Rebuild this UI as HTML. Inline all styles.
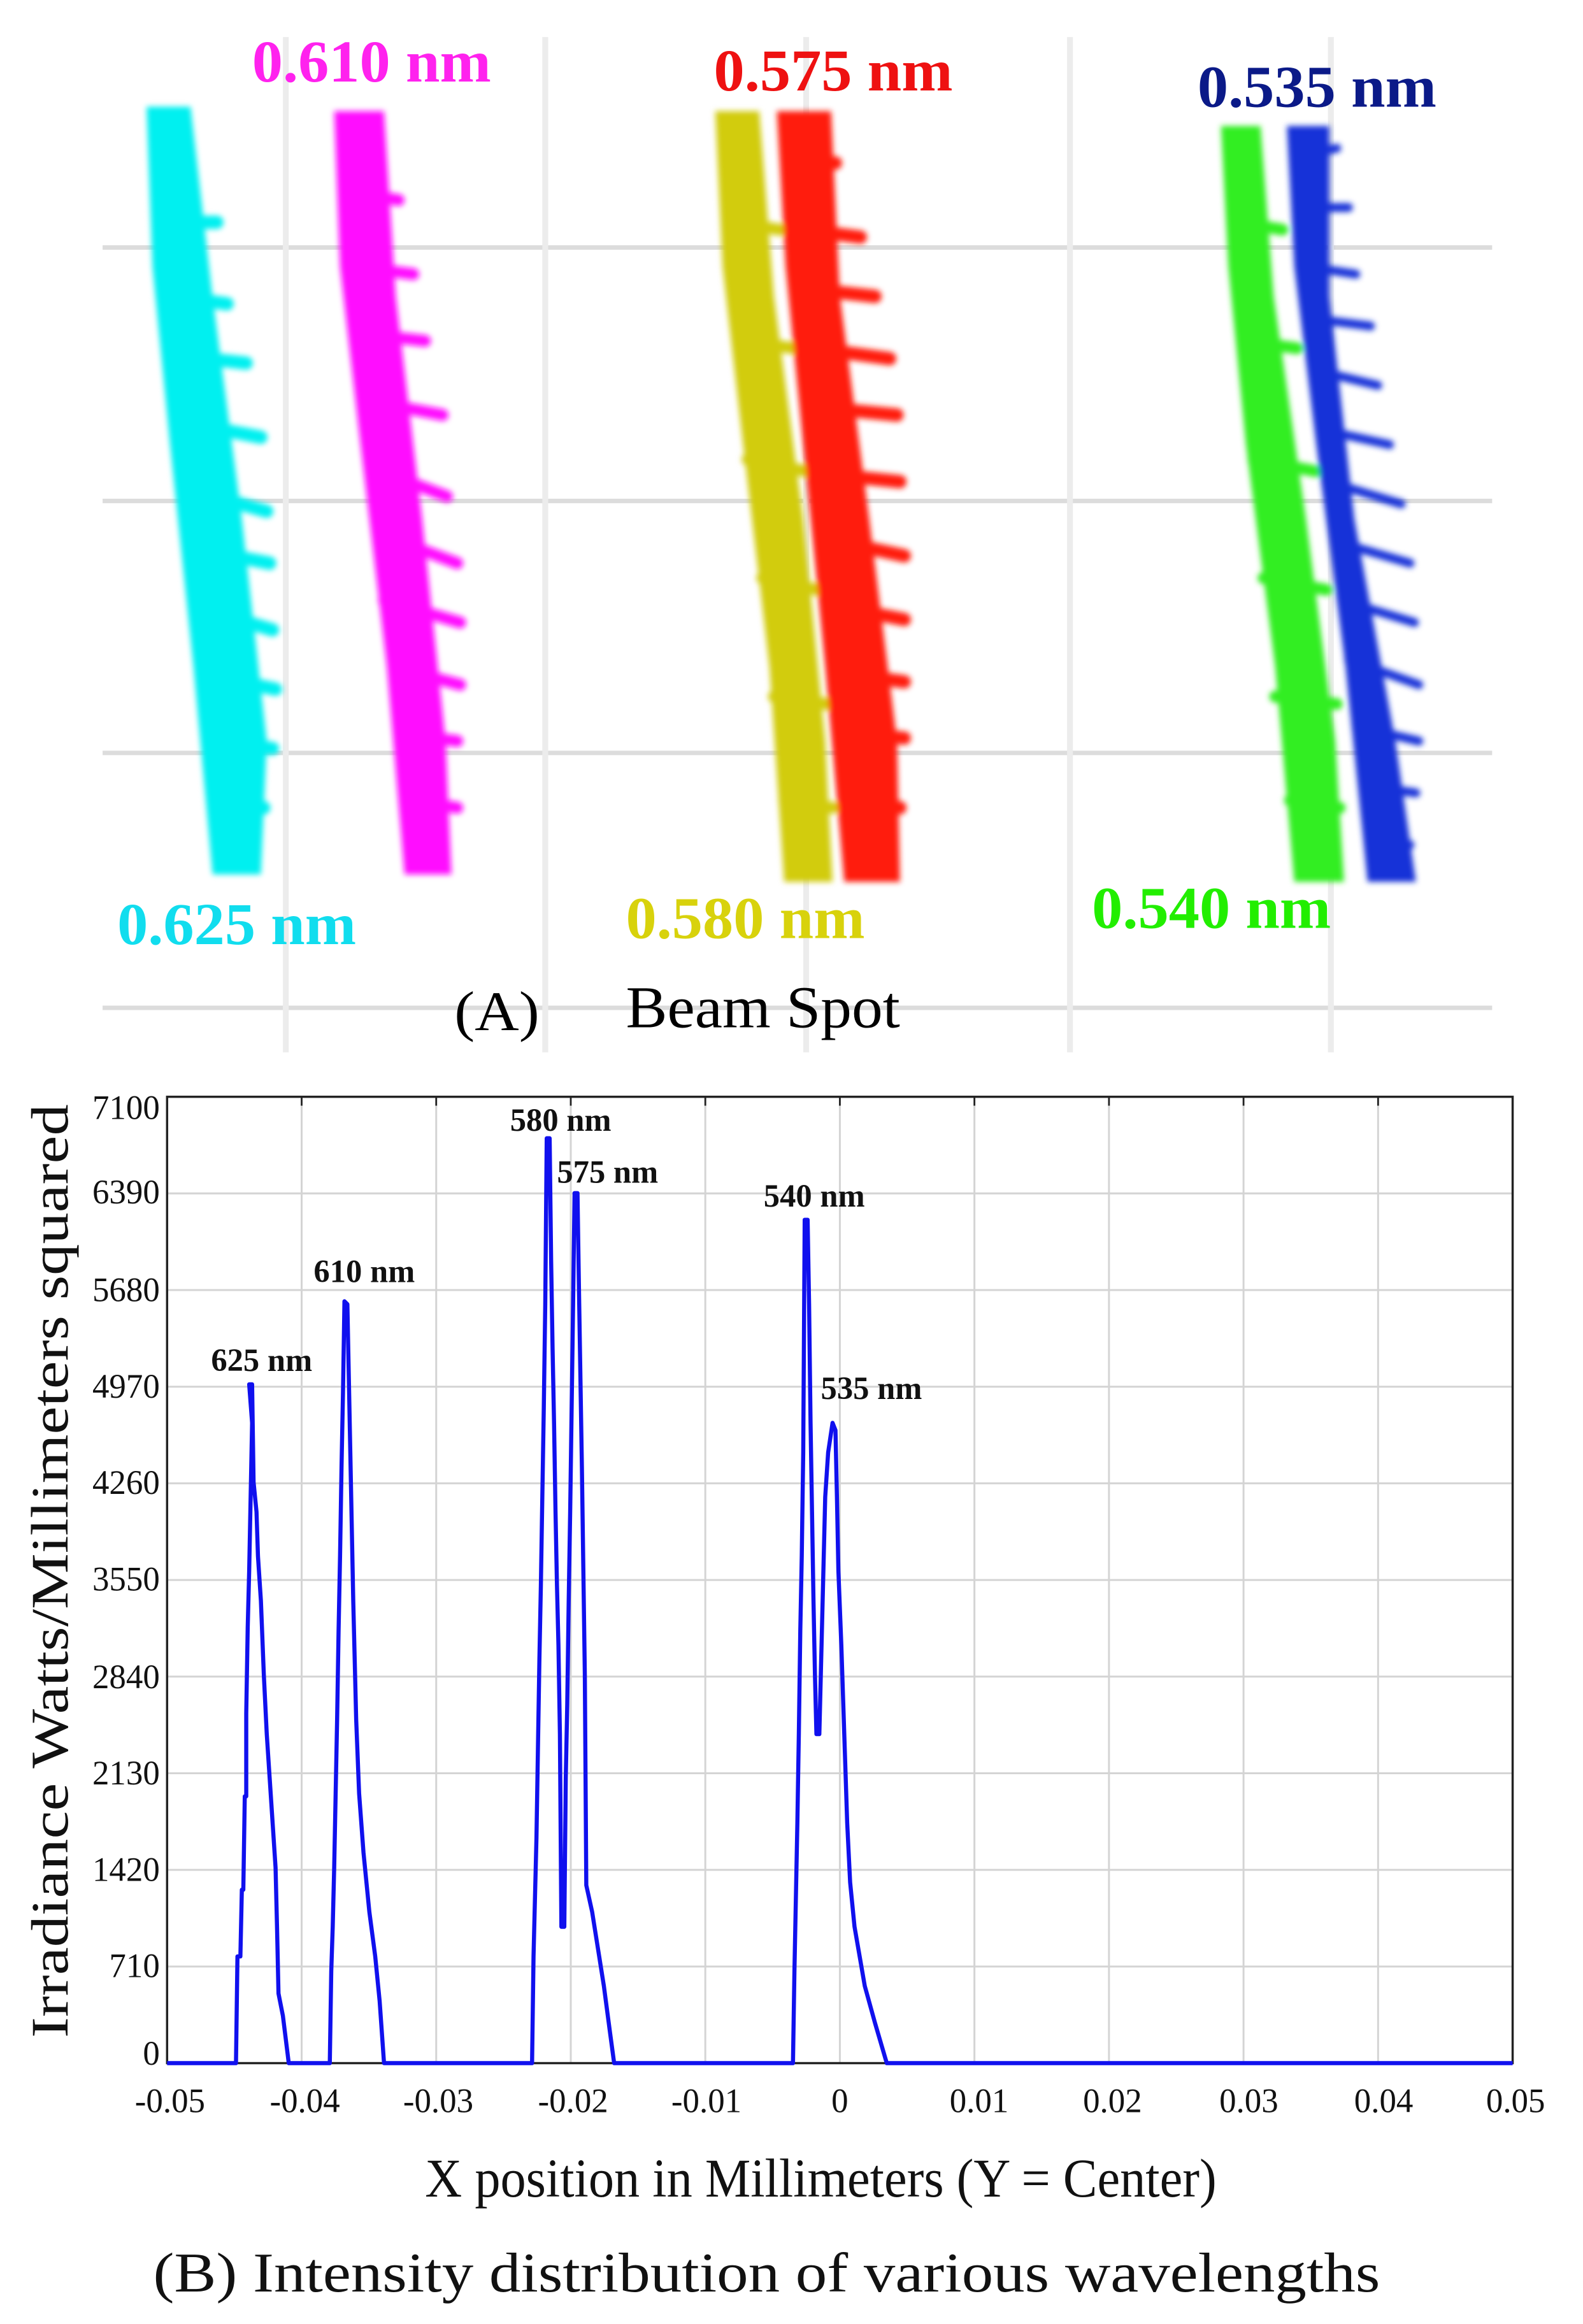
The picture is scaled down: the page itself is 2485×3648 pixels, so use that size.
<!DOCTYPE html>
<html><head><meta charset="utf-8"><style>
html,body{margin:0;padding:0;background:#fff;}
svg{display:block;}
text{font-family:"Liberation Serif",serif;}
</style></head><body>
<svg width="2485" height="3648" viewBox="0 0 1080 1568" preserveAspectRatio="none" xmlns="http://www.w3.org/2000/svg">
<defs><filter id="b" x="-20%" y="-20%" width="140%" height="140%"><feGaussianBlur stdDeviation="2"/></filter></defs>
<rect width="1080" height="1568" fill="#fff"/>
<g stroke="#dcdcdc" stroke-width="3">
<line x1="70" y1="167" x2="1018" y2="167"/><line x1="70" y1="338" x2="1018" y2="338"/>
<line x1="70" y1="508" x2="1018" y2="508"/><line x1="70" y1="680" x2="1018" y2="680"/>
</g>
<g stroke="#ececec" stroke-width="4">
<line x1="195" y1="25" x2="195" y2="710"/><line x1="372" y1="25" x2="372" y2="710"/>
<line x1="550" y1="25" x2="550" y2="710"/><line x1="730" y1="25" x2="730" y2="710"/>
<line x1="908" y1="25" x2="908" y2="710"/>
</g>
<g filter="url(#b)">
<polygon fill="#00f0f0" points="100,72 130,72 145,200 165,350 182,500 178,590 145,590 132,450 116,300 104,180"/>
<g stroke="#00f0f0" stroke-width="9" stroke-linecap="round">
<line x1="115" y1="150" x2="148" y2="150"/><line x1="118" y1="200" x2="155" y2="205"/>
<line x1="122" y1="240" x2="168" y2="245"/><line x1="125" y1="285" x2="178" y2="295"/>
<line x1="128" y1="330" x2="182" y2="345"/><line x1="132" y1="370" x2="184" y2="380"/>
<line x1="135" y1="410" x2="186" y2="425"/><line x1="140" y1="455" x2="188" y2="465"/>
<line x1="143" y1="500" x2="186" y2="505"/><line x1="146" y1="540" x2="180" y2="545"/>
</g>
<polygon fill="#ff10ff" points="228,75 262,75 270,200 288,350 304,500 308,590 276,590 264,450 246,300 232,180"/>
<g stroke="#ff10ff" stroke-width="8" stroke-linecap="round">
<line x1="240" y1="130" x2="272" y2="135"/><line x1="242" y1="180" x2="282" y2="185"/>
<line x1="245" y1="225" x2="290" y2="230"/><line x1="248" y1="270" x2="302" y2="280"/>
<line x1="252" y1="315" x2="305" y2="335"/><line x1="258" y1="360" x2="312" y2="380"/>
<line x1="262" y1="405" x2="314" y2="420"/><line x1="268" y1="450" x2="314" y2="462"/>
<line x1="272" y1="495" x2="312" y2="500"/><line x1="278" y1="540" x2="312" y2="545"/>
</g>
<polygon fill="#d2cc10" points="488,75 518,75 528,200 548,350 563,500 568,595 535,595 525,450 507,300 493,180"/>
<g stroke="#d2cc10" stroke-width="8" stroke-linecap="round">
<line x1="500" y1="150" x2="532" y2="155"/><line x1="505" y1="230" x2="542" y2="235"/>
<line x1="510" y1="310" x2="550" y2="318"/><line x1="520" y1="390" x2="558" y2="398"/>
<line x1="528" y1="470" x2="564" y2="475"/><line x1="535" y1="540" x2="568" y2="545"/>
</g>
<polygon fill="#ff1a10" points="530,75 567,75 573,200 593,350 612,500 614,595 576,595 563,450 548,300 536,180"/>
<g stroke="#ff1a10" stroke-width="9" stroke-linecap="round">
<line x1="545" y1="110" x2="570" y2="110"/><line x1="548" y1="155" x2="587" y2="160"/>
<line x1="552" y1="195" x2="597" y2="200"/><line x1="555" y1="235" x2="607" y2="242"/>
<line x1="560" y1="275" x2="612" y2="280"/><line x1="565" y1="320" x2="614" y2="325"/>
<line x1="570" y1="365" x2="617" y2="375"/><line x1="575" y1="410" x2="617" y2="418"/>
<line x1="580" y1="455" x2="617" y2="460"/><line x1="585" y1="495" x2="617" y2="498"/>
<line x1="588" y1="540" x2="614" y2="545"/>
</g>
<polygon fill="#33ee22" points="833,85 860,85 869,200 891,350 911,500 917,595 883,595 870,450 850,300 838,180"/>
<g stroke="#33ee22" stroke-width="8" stroke-linecap="round">
<line x1="845" y1="150" x2="875" y2="155"/><line x1="848" y1="230" x2="885" y2="235"/>
<line x1="855" y1="310" x2="898" y2="318"/><line x1="862" y1="390" x2="905" y2="398"/>
<line x1="870" y1="470" x2="912" y2="475"/><line x1="880" y1="540" x2="914" y2="545"/>
</g>
<polygon fill="#1530d8" points="878,85 907,85 907,200 924,350 952,500 966,595 933,595 918,450 898,300 883,180"/>
<g stroke="#1530d8" stroke-width="6" stroke-linecap="round">
<line x1="888" y1="105" x2="912" y2="100"/><line x1="890" y1="140" x2="920" y2="140"/>
<line x1="892" y1="180" x2="925" y2="185"/><line x1="895" y1="215" x2="935" y2="220"/>
<line x1="898" y1="250" x2="940" y2="260"/><line x1="902" y1="290" x2="948" y2="300"/>
<line x1="906" y1="325" x2="956" y2="340"/><line x1="910" y1="365" x2="962" y2="380"/>
<line x1="915" y1="405" x2="965" y2="420"/><line x1="920" y1="445" x2="968" y2="462"/>
<line x1="925" y1="490" x2="968" y2="500"/><line x1="930" y1="530" x2="966" y2="535"/>
<line x1="935" y1="565" x2="962" y2="570"/>
</g>
</g>
<g font-weight="bold" font-size="40">
<text x="172" y="55" fill="#ff22ee" textLength="163" lengthAdjust="spacingAndGlyphs">0.610 nm</text>
<text x="487" y="61" fill="#ee1111" textLength="163" lengthAdjust="spacingAndGlyphs">0.575 nm</text>
<text x="817" y="72" fill="#0b1a88" textLength="163" lengthAdjust="spacingAndGlyphs">0.535 nm</text>
<text x="80" y="637" fill="#11ddee" textLength="163" lengthAdjust="spacingAndGlyphs">0.625 nm</text>
<text x="427" y="633" fill="#d8d20c" textLength="163" lengthAdjust="spacingAndGlyphs">0.580 nm</text>
<text x="745" y="626" fill="#22ee00" textLength="163" lengthAdjust="spacingAndGlyphs">0.540 nm</text>
</g>
<text x="310" y="695" font-size="38" textLength="58" lengthAdjust="spacingAndGlyphs">(A)</text>
<text x="427" y="693" font-size="40" textLength="187" lengthAdjust="spacingAndGlyphs">Beam Spot</text>

<g stroke="#d4d4d4" stroke-width="1.3">
<line x1="205.8" y1="740" x2="205.8" y2="1392"/><line x1="297.6" y1="740" x2="297.6" y2="1392"/>
<line x1="389.4" y1="740" x2="389.4" y2="1392"/><line x1="481.2" y1="740" x2="481.2" y2="1392"/>
<line x1="573" y1="740" x2="573" y2="1392"/><line x1="664.8" y1="740" x2="664.8" y2="1392"/>
<line x1="756.6" y1="740" x2="756.6" y2="1392"/><line x1="848.4" y1="740" x2="848.4" y2="1392"/>
<line x1="940.2" y1="740" x2="940.2" y2="1392"/>
<line x1="114" y1="805.2" x2="1032" y2="805.2"/><line x1="114" y1="870.4" x2="1032" y2="870.4"/>
<line x1="114" y1="935.6" x2="1032" y2="935.6"/><line x1="114" y1="1000.8" x2="1032" y2="1000.8"/>
<line x1="114" y1="1066" x2="1032" y2="1066"/><line x1="114" y1="1131.2" x2="1032" y2="1131.2"/>
<line x1="114" y1="1196.4" x2="1032" y2="1196.4"/><line x1="114" y1="1261.6" x2="1032" y2="1261.6"/>
<line x1="114" y1="1326.8" x2="1032" y2="1326.8"/>
</g>
<rect x="114" y="740" width="918" height="652" fill="none" stroke="#222" stroke-width="1.5"/>
<g stroke="#222" stroke-width="1.2">
<line x1="205.8" y1="740" x2="205.8" y2="746"/><line x1="297.6" y1="740" x2="297.6" y2="746"/>
<line x1="389.4" y1="740" x2="389.4" y2="746"/><line x1="481.2" y1="740" x2="481.2" y2="746"/>
<line x1="573" y1="740" x2="573" y2="746"/><line x1="664.8" y1="740" x2="664.8" y2="746"/>
<line x1="756.6" y1="740" x2="756.6" y2="746"/><line x1="848.4" y1="740" x2="848.4" y2="746"/>
<line x1="940.2" y1="740" x2="940.2" y2="746"/>
</g>
<polyline fill="none" stroke="#1010ee" stroke-width="2.8" stroke-linejoin="round" points="114,1392 161,1392 162,1320 164,1320 165,1275 166,1275 167,1212 168,1212 168,1156 169,1098 170,1060 171,1010 172,960 170,934 172,934 173,1000 175,1020 176,1050 178,1080 180,1130 182,1170 184,1200 186,1230 188,1260 189,1300 190,1345 193,1360 197,1392 225,1392 226,1330 227,1300 228,1260 229,1210 230,1160 231,1100 232,1050 233,990 234,940 235,878 237,880 238,930 239,980 240,1030 241,1080 242,1120 243,1160 245,1210 248,1250 252,1290 256,1320 259,1350 262,1392 363,1392 364,1320 365,1280 366,1240 367,1180 368,1120 369,1070 370,1010 371,950 372,880 373,768 375,768 376,850 377,910 378,960 379,1020 380,1070 381,1110 382,1170 383,1300 385,1300 386,1200 387,1150 388,1080 389,1020 390,950 391,880 392,805 394,805 395,870 396,930 397,990 398,1060 399,1130 400,1272 404,1290 408,1315 412,1340 416,1370 419,1392 541,1392 542,1330 543,1280 544,1230 545,1170 546,1100 547,1050 548,980 549,823 551,823 552,880 553,960 554,1020 555,1080 556,1130 557,1170 559,1170 560,1130 561,1090 562,1050 563,1010 565,980 568,960 570,965 571,1010 572,1060 574,1110 576,1170 578,1230 580,1270 583,1300 590,1340 597,1365 605,1392 1032,1392"/>
<g font-weight="bold" font-size="22" fill="#111">
<text x="144" y="925">625 nm</text><text x="214" y="865">610 nm</text>
<text x="348" y="763">580 nm</text><text x="380" y="798">575 nm</text>
<text x="521" y="814">540 nm</text><text x="560" y="944">535 nm</text>
</g>
<g font-size="23" fill="#111" text-anchor="end">
<text x="109" y="755">7100</text><text x="109" y="812">6390</text><text x="109" y="878">5680</text>
<text x="109" y="943">4970</text><text x="109" y="1008">4260</text><text x="109" y="1073">3550</text>
<text x="109" y="1139">2840</text><text x="109" y="1204">2130</text><text x="109" y="1269">1420</text>
<text x="109" y="1334">710</text><text x="109" y="1393">0</text>
</g>
<g font-size="23" fill="#111" text-anchor="middle">
<text x="116" y="1425">-0.05</text><text x="208" y="1425">-0.04</text><text x="299" y="1425">-0.03</text>
<text x="391" y="1425">-0.02</text><text x="482" y="1425">-0.01</text><text x="573" y="1425">0</text>
<text x="668" y="1425">0.01</text><text x="759" y="1425">0.02</text><text x="852" y="1425">0.03</text>
<text x="944" y="1425">0.04</text><text x="1034" y="1425">0.05</text>
</g>
<text transform="translate(46,1060) rotate(-90)" font-size="36" text-anchor="middle" fill="#111" textLength="630" lengthAdjust="spacingAndGlyphs">Irradiance Watts/Millimeters squared</text>
<text x="560" y="1482" font-size="37" text-anchor="middle" fill="#111" textLength="540" lengthAdjust="spacingAndGlyphs">X position in Millimeters (Y = Center)</text>
<text x="523" y="1546" font-size="38" text-anchor="middle" fill="#111" textLength="837" lengthAdjust="spacingAndGlyphs">(B) Intensity distribution of various wavelengths</text>
</svg>
</body></html>
